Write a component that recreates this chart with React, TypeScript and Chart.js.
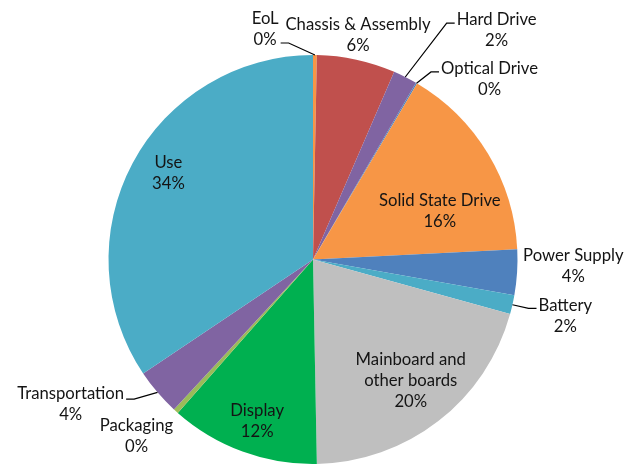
import React, { useEffect, useRef } from 'react';
import { Chart, ArcElement, PieController } from 'chart.js';

Chart.register(ArcElement, PieController);

// ---- data ----
const categories = [
  'EoL',
  'Chassis & Assembly',
  'Hard Drive',
  'Optical Drive',
  'Solid State Drive',
  'Power Supply',
  'Battery',
  'Mainboard and other boards',
  'Display',
  'Packaging',
  'Transportation',
  'Use',
];
const shares = [0.3, 6.2, 1.9, 0.1, 15.7, 3.6, 1.5, 20.4, 11.8, 0.4, 3.7, 34.4];
// how each category name is broken into lines in its label
const labelLines = [
  ['EoL'],
  ['Chassis & Assembly'],
  ['Hard Drive'],
  ['Optical Drive'],
  ['Solid State Drive'],
  ['Power Supply'],
  ['Battery'],
  ['Mainboard and', 'other boards'],
  ['Display'],
  ['Packaging'],
  ['Transportation'],
  ['Use'],
];

// ---- styles ----
const sliceColors = [
  '#F79646',
  '#C0504D',
  '#8064A2',
  '#4F81BD',
  '#F79646',
  '#4F81BD',
  '#4BACC6',
  '#BFBFBF',
  '#00B050',
  '#9BBB59',
  '#8064A2',
  '#4BACC6',
];
const FONT = '16.7px Lato';
const TEXT_COLOR = '#141414';
const LINE_H = 21;
const TEXT_NUDGE = 1.5;

// label block centre relative to pie centre, in units of the radius
const placement = [
  { ux: -0.234, uy: -1.132, leader: true, attachDy: 15 },
  { ux: 0.22, uy: -1.107, leader: false, attachDy: 0 },
  { ux: 0.898, uy: -1.127, leader: true, attachDy: -6 },
  { ux: 0.863, uy: -0.888, leader: true, attachDy: -6 },
  { ux: 0.62, uy: -0.244, leader: false, attachDy: 0 },
  { ux: 1.273, uy: 0.024, leader: false, attachDy: 0 },
  { ux: 1.234, uy: 0.268, leader: true, attachDy: -6 },
  { ux: 0.478, uy: 0.585, leader: false, attachDy: 0 },
  { ux: -0.273, uy: 0.785, leader: false, attachDy: 0 },
  { ux: -0.863, uy: 0.854, leader: false, attachDy: 0 },
  { ux: -1.185, uy: 0.702, leader: true, attachDy: -4 },
  { ux: -0.707, uy: -0.43, leader: false, attachDy: 0 },
];

const labelPlugin = {
  id: 'pieLabels',
  afterDatasetsDraw(chart: any) {
    const ctx = chart.ctx as CanvasRenderingContext2D;
    const meta = chart.getDatasetMeta(0);
    const data = chart.data.datasets[0].data as number[];
    const total = data.reduce((a, b) => a + b, 0);
    ctx.save();
    ctx.font = FONT;
    ctx.fillStyle = TEXT_COLOR;
    ctx.textAlign = 'center';
    ctx.textBaseline = 'middle';
    meta.data.forEach((arc: any, i: number) => {
      const { x, y, startAngle, endAngle, outerRadius } = arc.getProps(
        ['x', 'y', 'startAngle', 'endAngle', 'outerRadius'],
        true
      );
      const p = placement[i];
      const cx = x + p.ux * outerRadius;
      const cy = y + p.uy * outerRadius;
      const lines = [...labelLines[i], Math.round((data[i] / total) * 100) + '%'];
      const top = cy - ((lines.length - 1) * LINE_H) / 2 + TEXT_NUDGE;
      lines.forEach((t, k) => ctx.fillText(t, cx, top + k * LINE_H));
      if (p.leader) {
        const mid = (startAngle + endAngle) / 2;
        const ax = x + Math.cos(mid) * outerRadius;
        const ay = y + Math.sin(mid) * outerRadius;
        const w = Math.max(...lines.map((t) => ctx.measureText(t).width));
        const side = ax < cx ? 1 : -1;
        const ex = cx - side * (w / 2 + 2);
        const ey = cy + p.attachDy;
        const hx = ex - side * 8;
        ctx.beginPath();
        ctx.moveTo(ex, ey);
        ctx.lineTo(hx, ey);
        ctx.lineTo(ax, ay);
        ctx.strokeStyle = '#000';
        ctx.lineWidth = 1.2;
        ctx.stroke();
      }
    });
    ctx.restore();
  },
};

export default function App() {
  const ref = useRef<HTMLCanvasElement | null>(null);
  useEffect(() => {
    if (!ref.current) return;
    const chart = new Chart(ref.current, {
      type: 'pie',
      data: {
        labels: categories,
        datasets: [
          {
            data: shares,
            backgroundColor: sliceColors,
            borderWidth: 0,
            hoverOffset: 0,
          },
        ],
      },
      options: {
        responsive: false,
        animation: false,
        layout: { padding: { left: 108, right: 116, top: 55, bottom: 0 } },
        plugins: { legend: { display: false }, tooltip: { enabled: false } },
        events: [],
      },
      plugins: [labelPlugin],
    });
    return () => chart.destroy();
  }, []);
  return (
    <div style={{ position: 'absolute', left: 0, top: 0, width: 634, height: 464, background: '#fff' }}>
      <canvas ref={ref} width={634} height={464} style={{ width: 634, height: 464, display: 'block' }} />
    </div>
  );
}
